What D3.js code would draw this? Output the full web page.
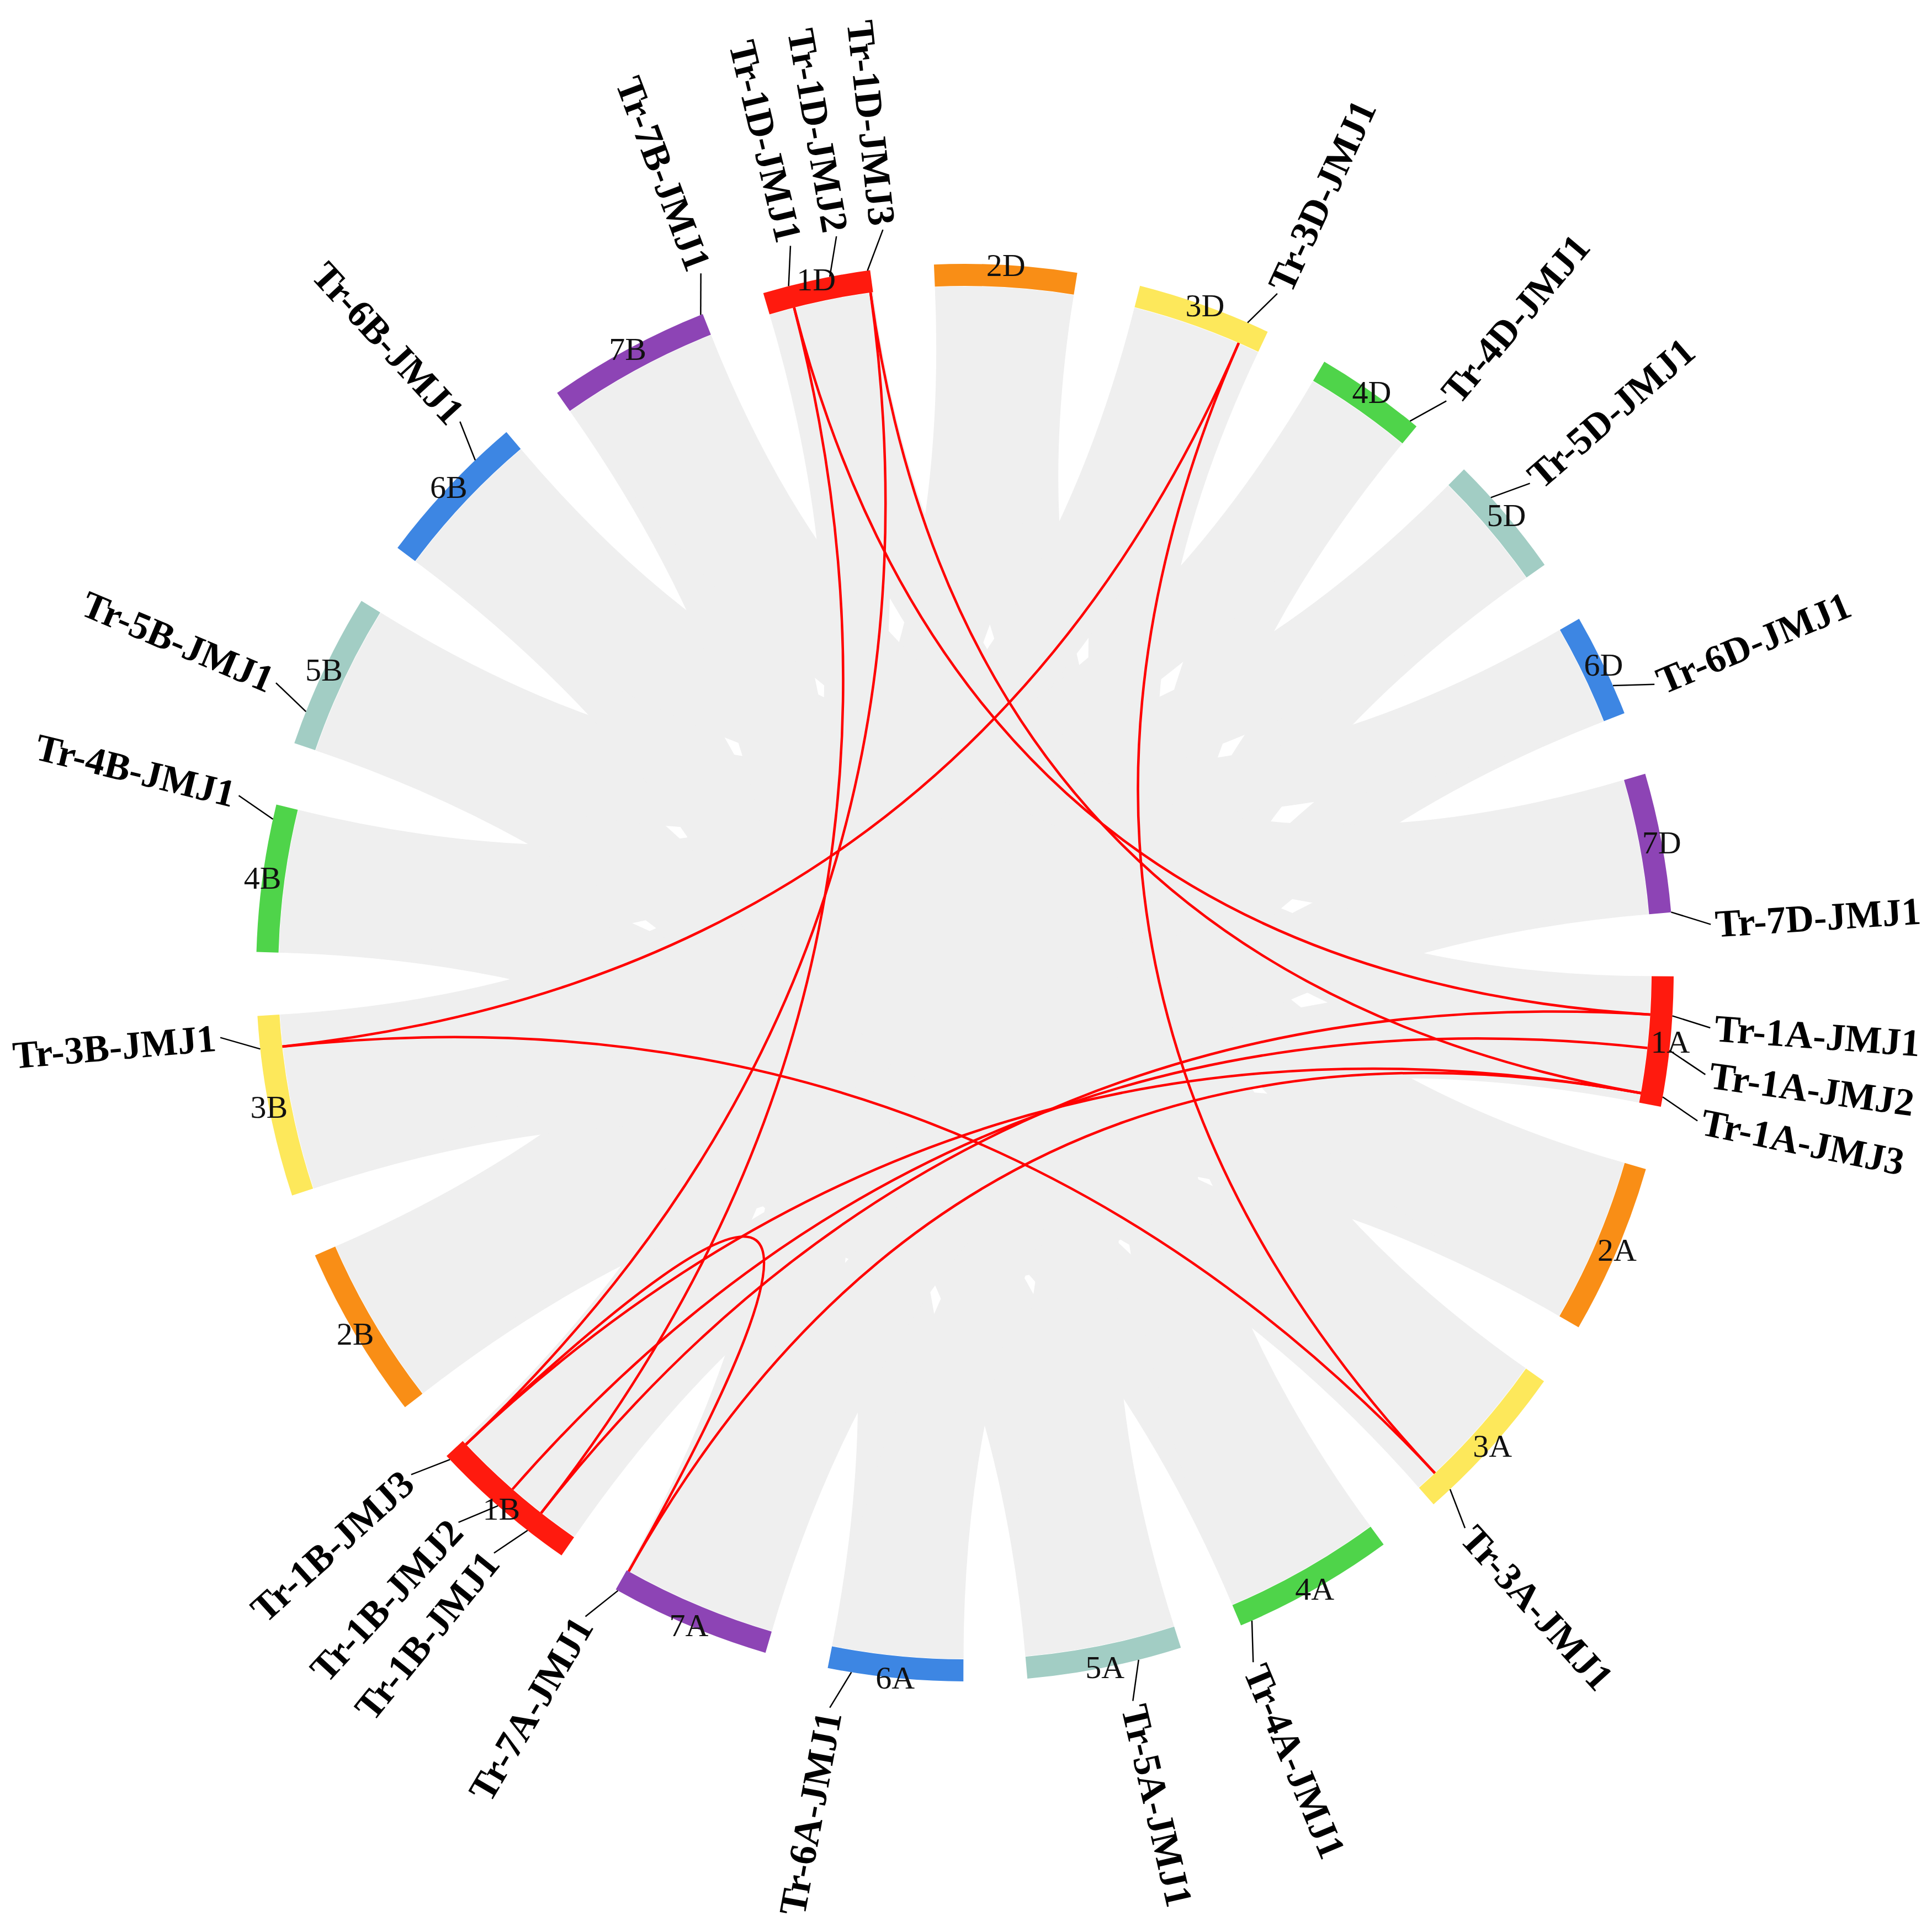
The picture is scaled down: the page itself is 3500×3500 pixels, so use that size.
<!DOCTYPE html>
<html>
<head>
<meta charset="utf-8">
<script src="https://cdn.jsdelivr.net/npm/d3@7"></script>
<style>
body { margin: 0; background: #fff; }
</style>
</head>
<body>
<div id="chart"></div>
<script>
// chromosomes in clockwise order, lengths in Mb
var chroms = ["1A","2A","3A","4A","5A","6A","7A","1B","2B","3B","4B","5B","6B","7B","1D","2D","3D","4D","5D","6D","7D"]
var chromLen = [594,780,750,744,710,618,737, 689,801,830,674,713,721,751, 495,651,615,510,566,474,639]
var groupColor = {"1":"#ff1a0e","2":"#f98e16","3":"#fde85b","4":"#4fd44a","5":"#a2cdc4","6":"#3d86e3","7":"#8d44b5"}

// genes and their position (Mb) on the chromosome named in the id
var geneNames = ["Tr-1A-JMJ1","Tr-1A-JMJ2","Tr-1A-JMJ3","Tr-3A-JMJ1","Tr-4A-JMJ1","Tr-5A-JMJ1","Tr-6A-JMJ1","Tr-7A-JMJ1",
    "Tr-1B-JMJ1","Tr-1B-JMJ2","Tr-1B-JMJ3","Tr-3B-JMJ1","Tr-4B-JMJ1","Tr-5B-JMJ1","Tr-6B-JMJ1","Tr-7B-JMJ1",
    "Tr-1D-JMJ1","Tr-1D-JMJ2","Tr-1D-JMJ3","Tr-3D-JMJ1","Tr-4D-JMJ1","Tr-5D-JMJ1","Tr-6D-JMJ1","Tr-7D-JMJ1"]
var genePos = [179,336,549,649,690,199,509,726,
    191,365,667,680,606,152,531,741,
    119,310,483,515,472,176,339,638]

// duplicated gene pairs (red)
var links = [
    ["Tr-1A-JMJ1","Tr-1B-JMJ1"],
    ["Tr-1A-JMJ1","Tr-1D-JMJ1"],
    ["Tr-1B-JMJ1","Tr-1D-JMJ1"],
    ["Tr-1A-JMJ2","Tr-1B-JMJ2"],
    ["Tr-1A-JMJ3","Tr-1B-JMJ3"],
    ["Tr-1A-JMJ3","Tr-1D-JMJ3"],
    ["Tr-1B-JMJ3","Tr-1D-JMJ3"],
    ["Tr-1B-JMJ3","Tr-7A-JMJ1"],
    ["Tr-1A-JMJ3","Tr-7A-JMJ1"],
    ["Tr-3A-JMJ1","Tr-3B-JMJ1"],
    ["Tr-3A-JMJ1","Tr-3D-JMJ1"],
    ["Tr-3B-JMJ1","Tr-3D-JMJ1"]
]

// background synteny between homeologous chromosomes (gray)
var synteny = []
d3.range(1, 8).forEach(n => {
    synteny.push([n+"A", n+"B"], [n+"A", n+"D"], [n+"B", n+"D"])
})

var width = 3500, height = 3500
var cx = 1748, cy = 1762
var rIn = 1244, rOut = 1284
var gap = 290
var startDeg = 90.3
var rad = Math.PI / 180

var offsets = [], acc = 0
chroms.forEach((c, i) => { offsets.push(acc); acc += chromLen[i] + gap })
var angle = d3.scaleLinear().domain([0, acc]).range([startDeg * rad, startDeg * rad + 2 * Math.PI])

function ang(chrom, pos) {
    var i = chroms.indexOf(chrom)
    return angle(offsets[i] + pos)
}
function pt(a, r) { return [r * Math.sin(a), -r * Math.cos(a)] }
function chromOf(g) { return g.split("-")[1] }
function geneAngle(g) { return ang(chromOf(g), genePos[geneNames.indexOf(g)]) }

let svg = d3.select("#chart").append("svg").attr("width", width).attr("height", height)
svg.append("rect").attr("width", width).attr("height", height).style("fill", "#fff")
var g = svg.append("g").attr("transform", "translate(" + cx + "," + cy + ")")

// gray synteny: all ribbons meet in the middle, so the core is solid
g.append("circle").attr("r", rIn * 0.45).style("fill", "#efefef")

var ribbon = d3.ribbon().radius(rIn - 1)
g.append("g").selectAll("path").data(synteny).join("path")
    .attr("d", d => {
        var a = d[0], b = d[1]
        return ribbon({
            source: {startAngle: ang(a, 0), endAngle: ang(a, chromLen[chroms.indexOf(a)])},
            target: {startAngle: ang(b, 0), endAngle: ang(b, chromLen[chroms.indexOf(b)])}
        })
    })
    .style("fill", "#efefef").style("stroke", "none")

// red links
g.append("g").selectAll("path").data(links).join("path")
    .attr("d", d => {
        var p0 = pt(geneAngle(d[0]), rIn), p1 = pt(geneAngle(d[1]), rIn)
        var p = d3.path()
        p.moveTo(p0[0], p0[1])
        p.quadraticCurveTo(0, 0, p1[0], p1[1])
        return p.toString()
    })
    .style("fill", "none").style("stroke", "#ff0000").style("stroke-width", 4.5)

// chromosome arcs
var arc = d3.arc().innerRadius(rIn).outerRadius(rOut)
g.append("g").selectAll("path").data(chroms).join("path")
    .attr("d", (d, i) => arc({startAngle: ang(d, 0), endAngle: ang(d, chromLen[i])}))
    .style("fill", d => groupColor[d[0]])

g.append("g").selectAll("text").data(chroms).join("text")
    .attr("x", (d, i) => pt(ang(d, chromLen[i] / 2), rOut)[0])
    .attr("y", (d, i) => pt(ang(d, chromLen[i] / 2), rOut)[1])
    .attr("text-anchor", "middle").attr("dominant-baseline", "central")
    .style("font-family", "'Liberation Serif', 'Times New Roman', serif")
    .style("font-size", "58px").style("fill", "#111")
    .text(d => d)

// gene labels, spread apart so they do not overlap
var labs = geneNames.map(n => { var a = geneAngle(n); return {name: n, a: a, la: a + 1.2 * rad} })
labs.sort((p, q) => p.la - q.la)
var minSep = 3.6 * rad
for (var it = 0; it < 200; it++) {
    for (var i = 1; i < labs.length; i++) {
        var dd = labs[i].la - labs[i - 1].la
        if (dd < minSep) {
            var s = (minSep - dd) / 2
            labs[i].la += s
            labs[i - 1].la -= s
        }
    }
}

var rLead = rOut + 70, rText = rOut + 78
g.append("g").selectAll("line").data(labs).join("line")
    .attr("x1", d => pt(d.a, rOut)[0]).attr("y1", d => pt(d.a, rOut)[1])
    .attr("x2", d => pt(d.la, rLead)[0]).attr("y2", d => pt(d.la, rLead)[1])
    .style("stroke", "#000").style("stroke-width", 2.5)

g.append("g").selectAll("text").data(labs).join("text")
    .attr("transform", d => {
        var deg = ((d.la / rad) % 360 + 360) % 360
        if (deg < 180) return "rotate(" + (deg - 90) + ") translate(" + rText + ",0)"
        return "rotate(" + (deg - 90) + ") translate(" + rText + ",0) rotate(180)"
    })
    .attr("text-anchor", d => (((d.la / rad) % 360 + 360) % 360) < 180 ? "start" : "end")
    .attr("dominant-baseline", "central")
    .style("font-family", "'Liberation Serif', 'Times New Roman', serif")
    .style("font-weight", "bold").style("font-size", "70px").style("fill", "#000")
    .text(d => d.name)
</script>
</body>
</html>
